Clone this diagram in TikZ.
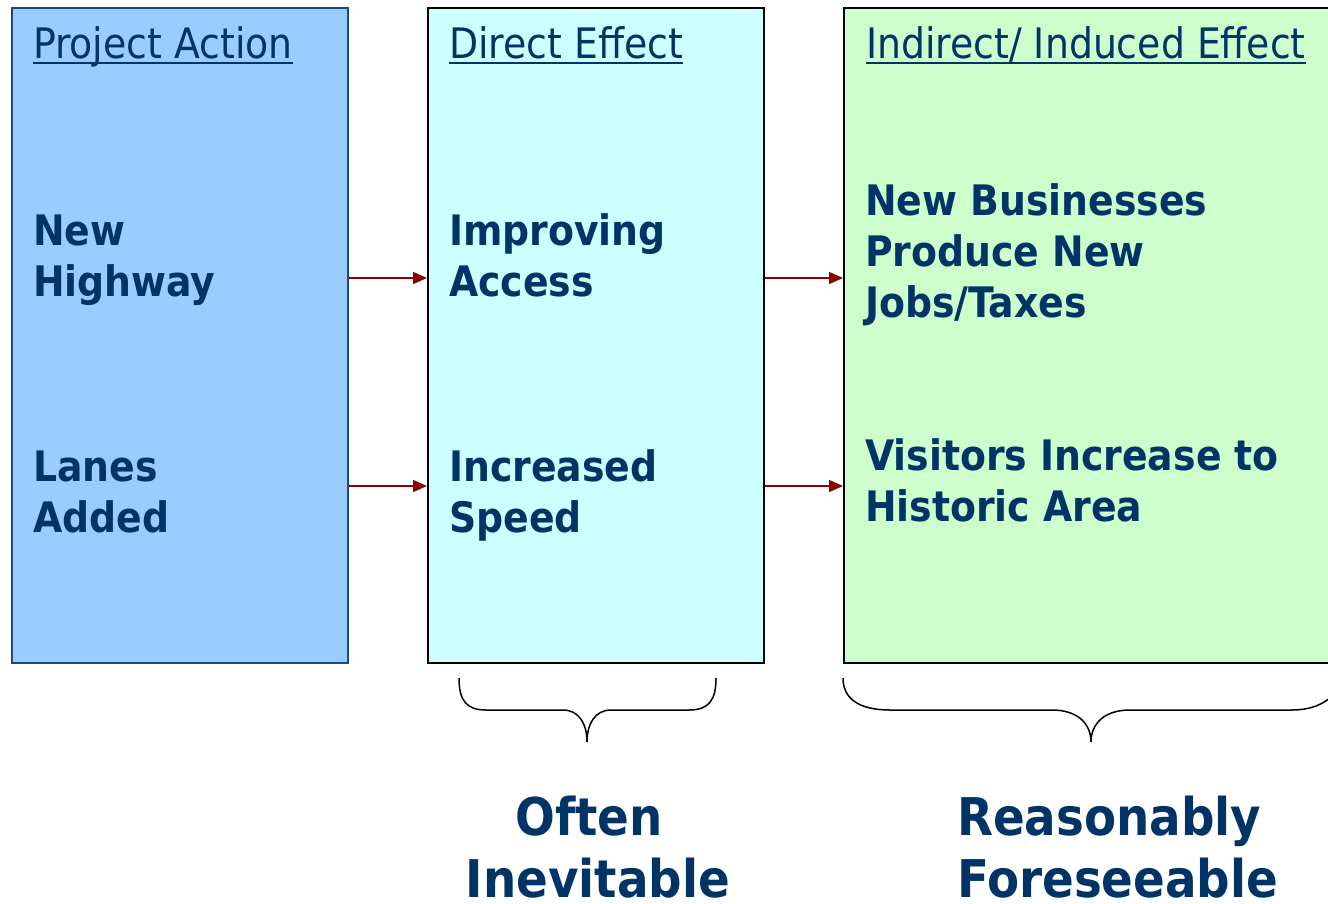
\documentclass[tikz,border=0pt]{standalone}
\usepackage{fontspec}
\setmainfont{DejaVu Sans Condensed}
\usetikzlibrary{arrows.meta}
\definecolor{navy}{HTML}{003366}
\definecolor{pafill}{HTML}{99CCFF}
\definecolor{paline}{HTML}{1F4A78}
\definecolor{defill}{HTML}{CCFFFF}
\definecolor{iefill}{HTML}{CCFFCC}
\definecolor{arrred}{HTML}{8B0000}
\newcommand\myuline[1]{\setbox0\hbox{#1}\rlap{\rule[-6pt]{\wd0}{2pt}}\box0}
\tikzset{
  colbox/.style={rectangle, inner sep=0, minimum width=336pt, minimum height=655pt, line width=1.5pt, draw=black, anchor=north west},
  title/.style={anchor=base west, inner sep=0, text=navy, font=\fontsize{42}{48}\selectfont},
  body/.style={anchor=base west, inner sep=0, text=navy, align=left, font=\bfseries\fontsize{42}{51}\selectfont},
  big/.style={inner sep=0, text=navy, font=\bfseries\fontsize{52}{62}\selectfont},
  arr/.style={draw=arrred, line width=1.2pt, -{Triangle[length=14pt,width=12pt]}},
  brace/.style={draw=black, line width=1.5pt}
}
\begin{document}
\begin{tikzpicture}[x=1pt,y=-1pt]
\useasboundingbox (0,0) rectangle (1328,903);
\clip (0,0) rectangle (1328,903);
% boxes
\node[colbox, fill=pafill, draw=paline, line width=2pt] (pa) at (11,7) {};
\node[colbox, fill=defill] (de) at (427,7) {};
\node[colbox, fill=iefill, minimum width=520pt] (ie) at (843,7) {};
% titles
\node[title] (t1) at (33,58) {\myuline{Project Action}};
\node[title] (t2) at (449,58) {\myuline{Direct Effect}};
\node[title] (t3) at (866,58) {\myuline{Indirect/ Induced Effect}};
% body texts (anchor = baseline of the last line)
\node[body] (nh) at (33,296) {New\\Highway};
\node[body] (la) at (33,532) {Lanes\\Added};
\node[body] (ia) at (449,296) {Improving\\Access};
\node[body] (is) at (449,532) {Increased\\Speed};
\node[body] (nb) at (865,317) {New Businesses\\Produce New\\Jobs/Taxes};
\node[body] (vi) at (865,521) {Visitors Increase to\\Historic Area};
% arrows
\coordinate (r1) at (0,278);
\coordinate (r2) at (0,486);
\draw[arr] (pa.east |- r1) -- (de.west |- r1);
\draw[arr] (pa.east |- r2) -- (de.west |- r2);
\draw[arr] (de.east |- r1) -- (ie.west |- r1);
\draw[arr] (de.east |- r2) -- (ie.west |- r2);
% braces
\draw[brace] (459,678) .. controls (459,700) and (466,710) .. (486,710) -- (563,710)
  .. controls (579,710) and (587,724) .. (587,742)
  .. controls (587,724) and (595,710) .. (611,710) -- (689,710)
  .. controls (709,710) and (716,700) .. (716,678);
\draw[brace] (843,678) .. controls (843,698) and (858,710) .. (890,710) -- (1052,710)
  .. controls (1078,710) and (1091,724) .. (1091,742)
  .. controls (1091,724) and (1104,710) .. (1130,710) -- (1292,710)
  .. controls (1312,710) and (1325,703) .. (1332,696);
% bottom labels
\node[big, anchor=base] (of) at (589,835) {Often};
\node[big, anchor=base] (in) at (598,897) {Inevitable};
\node[big, anchor=base west] (re) at (957,835) {Reasonably};
\node[big, anchor=base west] (fo) at (957,897) {Foreseeable};
\end{tikzpicture}
\end{document}
